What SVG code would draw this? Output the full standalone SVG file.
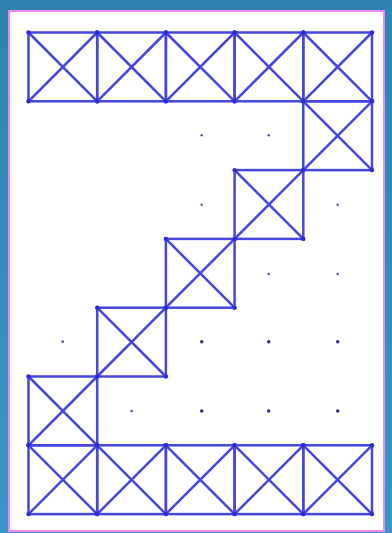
<svg xmlns="http://www.w3.org/2000/svg" width="392" height="533" viewBox="0 0 392 533">
<defs>
<linearGradient id="bg" x1="0" y1="0" x2="0" y2="1">
<stop offset="0" stop-color="#2e83b2"/>
<stop offset="1" stop-color="#3a96c8"/>
</linearGradient>
<g id="cell">
<rect x="0" y="0" width="68.7" height="68.8" fill="none"/>
<line x1="0" y1="0" x2="68.7" y2="68.8"/>
<line x1="68.7" y1="0" x2="0" y2="68.8"/>
<circle cx="0" cy="0" r="2.2" class="v"/>
<circle cx="68.7" cy="0" r="2.2" class="v"/>
<circle cx="0" cy="68.8" r="2.2" class="v"/>
<circle cx="68.7" cy="68.8" r="2.2" class="v"/>
</g>
</defs>
<style>
.cells use { stroke:#4646dc; stroke-width:2.5; fill:none; }
.v { fill:#2a2ad8; stroke:none; }
.dot { fill:#5a5a9a; }
.dotb { fill:#30308a; }
</style>
<rect x="0" y="0" width="392" height="533" fill="url(#bg)"/>
<rect x="9" y="11" width="375" height="520" fill="#ffffff" stroke="#ee88ee" stroke-width="2"/>
<g id="cells" class="cells">
<use href="#cell" x="28.5" y="32.5"/>
<use href="#cell" x="97.2" y="32.5"/>
<use href="#cell" x="165.9" y="32.5"/>
<use href="#cell" x="234.6" y="32.5"/>
<use href="#cell" x="303.3" y="32.5"/>
<use href="#cell" x="303.3" y="101.3"/>
<use href="#cell" x="234.6" y="170.1"/>
<use href="#cell" x="165.9" y="238.9"/>
<use href="#cell" x="97.2" y="307.7"/>
<use href="#cell" x="28.5" y="376.5"/>
<use href="#cell" x="28.5" y="445.3"/>
<use href="#cell" x="97.2" y="445.3"/>
<use href="#cell" x="165.9" y="445.3"/>
<use href="#cell" x="234.6" y="445.3"/>
<use href="#cell" x="303.3" y="445.3"/>
</g>
<g id="dots">
<circle class="dot" cx="201.7" cy="135.3" r="1.3"/>
<circle class="dot" cx="268.7" cy="135.3" r="1.3"/>
<circle class="dot" cx="201.7" cy="204.7" r="1.3"/>
<circle class="dot" cx="337.7" cy="204.7" r="1.3"/>
<circle class="dot" cx="268.7" cy="274" r="1.3"/>
<circle class="dot" cx="337.7" cy="274" r="1.3"/>
<circle class="dot" cx="62.7" cy="341.7" r="1.4"/>
<circle class="dotb" cx="201.7" cy="341.7" r="1.8"/>
<circle class="dotb" cx="268.7" cy="341.7" r="1.8"/>
<circle class="dotb" cx="337.7" cy="341.7" r="1.8"/>
<circle class="dot" cx="131.7" cy="411" r="1.3"/>
<circle class="dotb" cx="201.7" cy="411" r="1.8"/>
<circle class="dotb" cx="268.7" cy="411" r="1.8"/>
<circle class="dotb" cx="337.7" cy="411" r="1.8"/>
</g>
</svg>
